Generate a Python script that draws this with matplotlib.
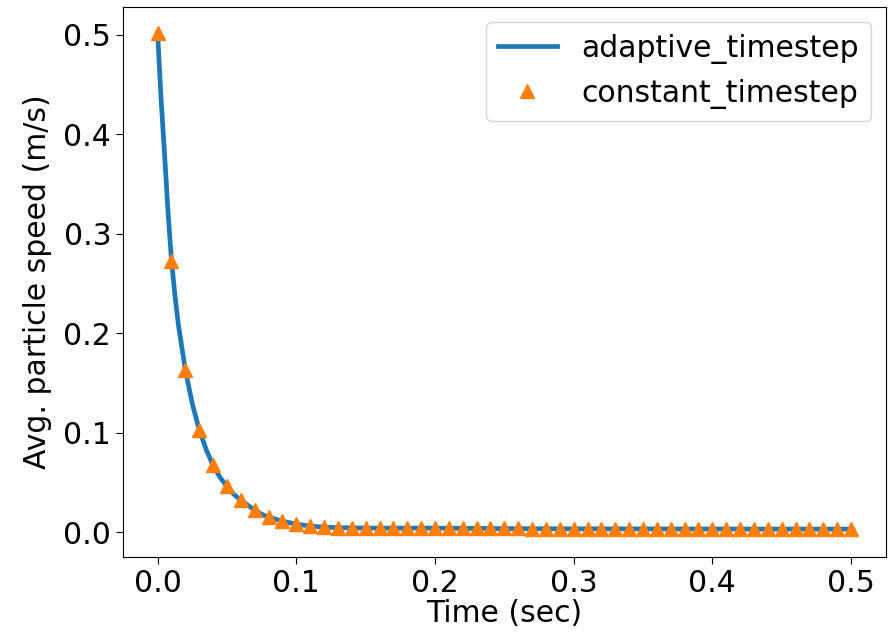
import matplotlib
matplotlib.use("Agg")
import matplotlib.pyplot as plt

# adaptive timestep series
adaptive_t = [0.0, 0.0025, 0.005, 0.0075, 0.01, 0.0125, 0.015, 0.02, 0.025, 0.03,
              0.035, 0.04, 0.045, 0.05, 0.055, 0.06, 0.065, 0.07, 0.075, 0.08,
              0.09, 0.10, 0.11, 0.12, 0.13, 0.15, 0.2, 0.25, 0.3, 0.35, 0.4, 0.45, 0.5]
adaptive_v = [0.502, 0.435, 0.380, 0.322, 0.273, 0.238, 0.208, 0.163, 0.129, 0.103,
              0.083, 0.067, 0.055, 0.046, 0.038, 0.032, 0.027, 0.022, 0.018, 0.015,
              0.011, 0.008, 0.006, 0.005, 0.0045, 0.004, 0.004, 0.0035, 0.0033, 0.0032, 0.0031, 0.003, 0.003]

# constant timestep series
constant_t = [round(i * 0.01, 2) for i in range(51)]
constant_v = [0.502, 0.273, 0.163, 0.103, 0.067, 0.046, 0.032, 0.022, 0.015, 0.011,
              0.008, 0.006, 0.005, 0.0045, 0.004, 0.004, 0.004, 0.004, 0.004, 0.004,
              0.004, 0.004, 0.004, 0.004, 0.004, 0.004, 0.004, 0.003, 0.003, 0.003,
              0.003, 0.003, 0.003, 0.003, 0.003, 0.003, 0.003, 0.003, 0.003, 0.003,
              0.003, 0.003, 0.003, 0.003, 0.003, 0.003, 0.003, 0.003, 0.003, 0.003,
              0.003]

xticks = [0.0, 0.1, 0.2, 0.3, 0.4, 0.5]
yticks = [0.0, 0.1, 0.2, 0.3, 0.4, 0.5]

fs = 21.5
fig = plt.figure(figsize=(8.91, 6.34), dpi=100)
ax = fig.add_axes([0.138, 0.1215, 0.856, 0.8675])
ax.plot(adaptive_t, adaptive_v, color="C0", lw=3.4, label="adaptive_timestep")
ax.plot(constant_t, constant_v, linestyle="none", marker="^", color="C1",
        markersize=9.5, label="constant_timestep")
ax.set_xticks(xticks)
ax.set_yticks(yticks)
ax.tick_params(labelsize=fs, length=5)
ax.set_xlabel("Time (sec)", fontsize=fs, labelpad=1)
ax.set_ylabel("Avg. particle speed (m/s)", fontsize=fs, labelpad=8)
ax.set_xlim(-0.025, 0.525)
ax.set_ylim(-0.025, 0.528)
ax.legend(loc="upper right", fontsize=fs)
fig.savefig("out.png", dpi=100)
